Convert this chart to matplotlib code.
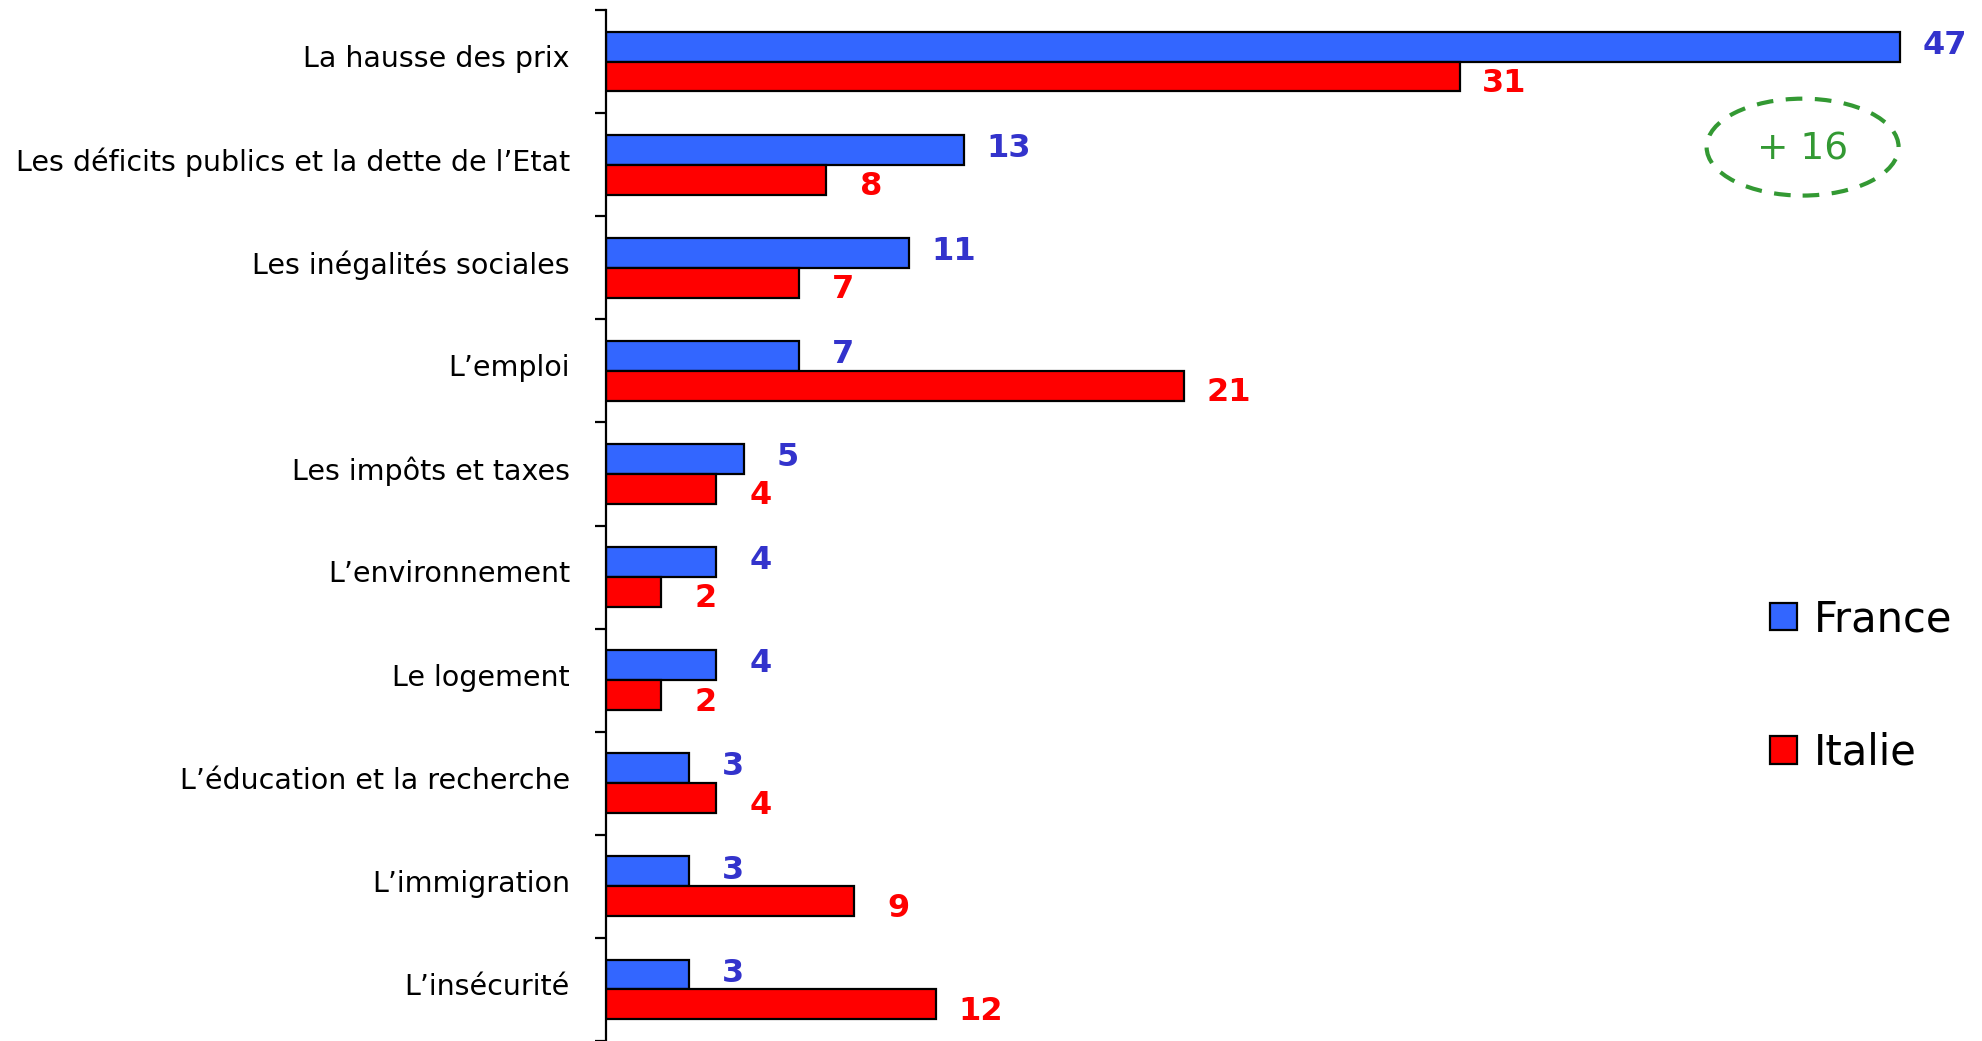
import matplotlib
matplotlib.use('Agg')
from matplotlib import pyplot as plt
from matplotlib.patches import Ellipse, Patch
import matplotlib.transforms as mtransforms
import numpy as np

categories = ["La hausse des prix",
              "Les déficits publics et la dette de l\u2019Etat",
              "Les inégalités sociales",
              "L\u2019emploi",
              "Les impôts et taxes",
              "L\u2019environnement",
              "Le logement",
              "L\u2019éducation et la recherche",
              "L\u2019immigration",
              "L\u2019insécurité"]
france = [47, 13, 11, 7, 5, 4, 4, 3, 3, 3]
italie = [31, 8, 7, 21, 4, 2, 2, 4, 9, 12]
series_names = ["France", "Italie"]

BLUE = '#3366FF'
RED = '#FF0000'
BLUE_TXT = '#3333CC'
GREEN = '#339933'

plt.rcParams['font.family'] = ['DejaVu Sans']

fig = plt.figure(figsize=(19.83, 10.41), dpi=100)
ax = fig.add_axes([606 / 1983, 0.0, 1 - 606 / 1983, 1 - 10 / 1041])

y = np.arange(len(categories))
h = 0.29
ax.barh(y - h / 2, france, height=h, color=BLUE, edgecolor='black', linewidth=1.6)
ax.barh(y + h / 2, italie, height=h, color=RED, edgecolor='black', linewidth=1.6)

for yi, v in zip(y, france):
    ax.annotate(str(v), (v, yi - h / 2), xytext=(32, 1), textcoords='offset points',
                ha='center', va='center', fontsize=23, fontweight='bold', color=BLUE_TXT)
for yi, v in zip(y, italie):
    ax.annotate(str(v), (v, yi + h / 2), xytext=(32, -5), textcoords='offset points',
                ha='center', va='center', fontsize=23, fontweight='bold', color=RED)

ax.set_xlim(0, 50)
ax.set_ylim(len(categories) - 0.5, -0.5)
ax.set_yticks(y)
ax.set_yticklabels(categories, fontsize=20.5)
ax.tick_params(axis='y', which='major', length=0, pad=26)
# labels sit a little above the group centre in the original
shift = mtransforms.ScaledTranslation(0, 4 / 72, fig.dpi_scale_trans)
for lab in ax.get_yticklabels():
    lab.set_transform(lab.get_transform() + shift)
ax.set_yticks(np.arange(len(categories) + 1) - 0.5, minor=True)
ax.tick_params(axis='y', which='minor', length=8, width=1.6, direction='out')
ax.set_xticks([])
for s in ['top', 'right', 'bottom']:
    ax.spines[s].set_visible(False)
ax.spines['left'].set_linewidth(1.6)

# gap annotation on the first item
diff = france[0] - italie[0]
ax.add_patch(Ellipse((0.869, 0.867), 0.1394, 0.094, transform=ax.transAxes,
                     fill=False, edgecolor=GREEN, linewidth=3, linestyle=(0, (4, 3))))
ax.text(0.869, 0.865, '+ %d' % diff, transform=ax.transAxes, ha='center', va='center',
        fontsize=27, color=GREEN)

handles = [Patch(facecolor=BLUE, edgecolor='black', linewidth=1.6),
           Patch(facecolor=RED, edgecolor='black', linewidth=1.6)]
fig.legend(handles, series_names, loc='upper left', bbox_to_anchor=(0.8925, 0.4255),
           frameon=False, fontsize=30, handlelength=0.65, handleheight=0.65,
           handletextpad=0.4, labelspacing=2.2, borderpad=0, borderaxespad=0)

fig.savefig('out.png', dpi=100)
